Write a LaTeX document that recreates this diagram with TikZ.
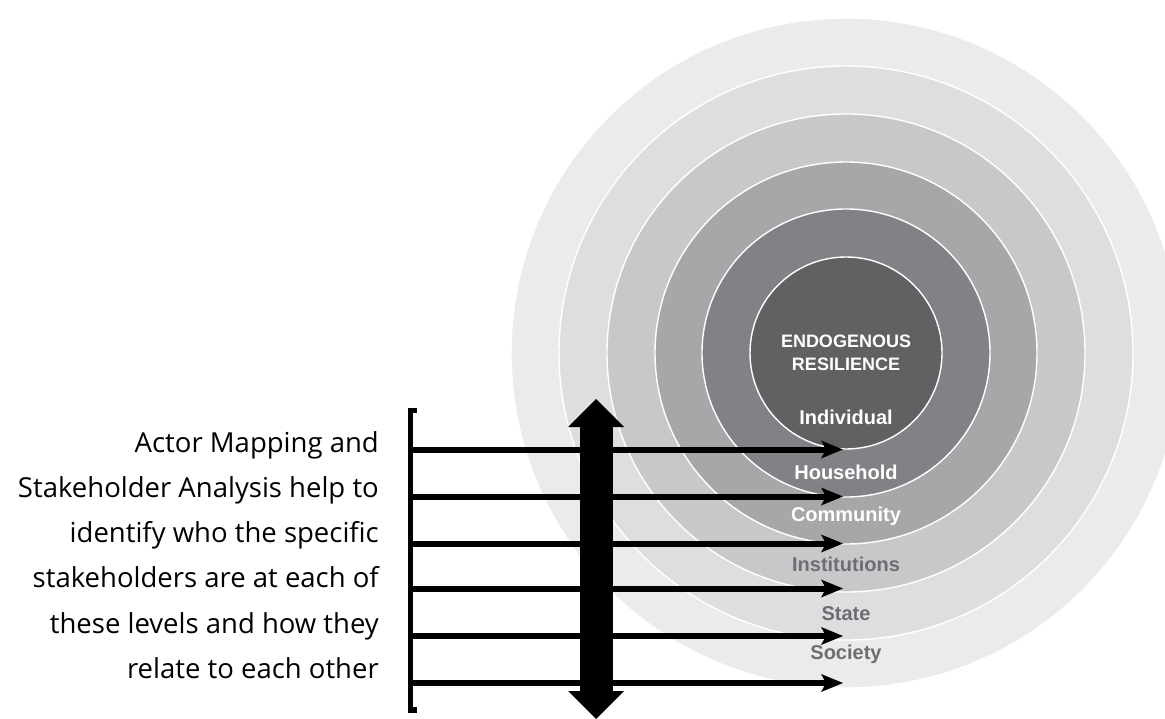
\documentclass[tikz,border=0pt]{standalone}
\usepackage{fontspec}
\setmainfont{Open Sans}
\newfontfamily\lblfont{Liberation Sans}
\usetikzlibrary{positioning,arrows.meta}
\definecolor{ringA}{HTML}{606163}
\definecolor{ringB}{HTML}{818285}
\definecolor{ringC}{HTML}{A6A7A9}
\definecolor{ringD}{HTML}{C7C8CA}
\definecolor{ringE}{HTML}{DDDEDF}
\definecolor{ringF}{HTML}{EBEBEB}
\definecolor{lvlgrey}{HTML}{6D6E71}
\tikzset{
    ring/.style={circle,draw=white,line width=1.4pt,inner sep=0pt},
    lvl/.style={font=\lblfont\bfseries\fontsize{20}{22}\selectfont,text=white,inner sep=0pt},
    lvldim/.style={lvl,text=lvlgrey},
    core/.style={lvl,align=center,font=\lblfont\bfseries\fontsize{18}{23}\selectfont},
    link/.style={-{Stealth[length=22pt,width=18pt,inset=5pt,line width=0pt]},line width=6pt},
    updown/.style={{Triangle[length=28pt,width=56pt,line width=0pt]}-{Triangle[length=28pt,width=56pt,line width=0pt]},line width=33pt},
    bracket/.style={line width=5.5pt},
    blurb/.style={align=right,inner sep=0pt,font=\fontsize{27.5}{45.3}\selectfont},
}
\begin{document}
\begin{tikzpicture}[x=1pt,y=-1pt]
    \useasboundingbox (0,0) rectangle (1165,719);
    \begin{scope}
    \clip (0,0) rectangle (1165,719);
    % levels, outside in
    \node[ring,fill=ringF,minimum size=670pt] (c6) at (846,353) {};
    \node[ring,fill=ringE,minimum size=574pt] (c5) at (846,353) {};
    \node[ring,fill=ringD,minimum size=478pt] (c4) at (846,353) {};
    \node[ring,fill=ringC,minimum size=382pt] (c3) at (846,353) {};
    \node[ring,fill=ringB,minimum size=288pt] (c2) at (846,353) {};
    \node[ring,fill=ringA,minimum size=192pt] (c1) at (846,353) {};
    \end{scope}

    \node[core] (endo) at (c1) {ENDOGENOUS\\RESILIENCE};
    \node[lvl] (ind) at (846,417) {Individual};
    \node[lvl] (hh) at (846,472) {Household};
    \node[lvl] (com) at (846,516) {Community};
    \node[lvldim] (inst) at (846,564) {Institutions};
    \node[lvldim] (st) at (846,614) {State};
    \node[lvldim] (soc) at (846,654) {Society};

    % bracket and the arrows out of it
    \coordinate (btop) at (417,410.5);
    \coordinate (bbot) at (417,710);
    \draw[bracket] (btop) -| (410.5,710) -- (bbot);
    \coordinate (b1) at (410,449.5);  \coordinate (t1) at (843,449.5);
    \coordinate (b2) at (410,496.5);  \coordinate (t2) at (843,496.5);
    \coordinate (b3) at (410,543.5);  \coordinate (t3) at (843,543.5);
    \coordinate (b4) at (410,588.5);  \coordinate (t4) at (843,588.5);
    \coordinate (b5) at (410,636);    \coordinate (t5) at (843,636);
    \coordinate (b6) at (410,683);    \coordinate (t6) at (843,683);
    \draw[link] (b1) -- (t1);
    \draw[link] (b2) -- (t2);
    \draw[link] (b3) -- (t3);
    \draw[link] (b4) -- (t4);
    \draw[link] (b5) -- (t5);
    \draw[link] (b6) -- (t6);

    \coordinate (up) at (596,399);
    \coordinate (down) at (596,719);
    \draw[updown] (down) -- (up);

    \node[blurb,anchor=east] (note) at (379,555) {Actor Mapping and\\Stakeholder Analysis help to\\identify who the specific\\stakeholders are at each of\\these levels and how they\\relate to each other};
\end{tikzpicture}
\end{document}
